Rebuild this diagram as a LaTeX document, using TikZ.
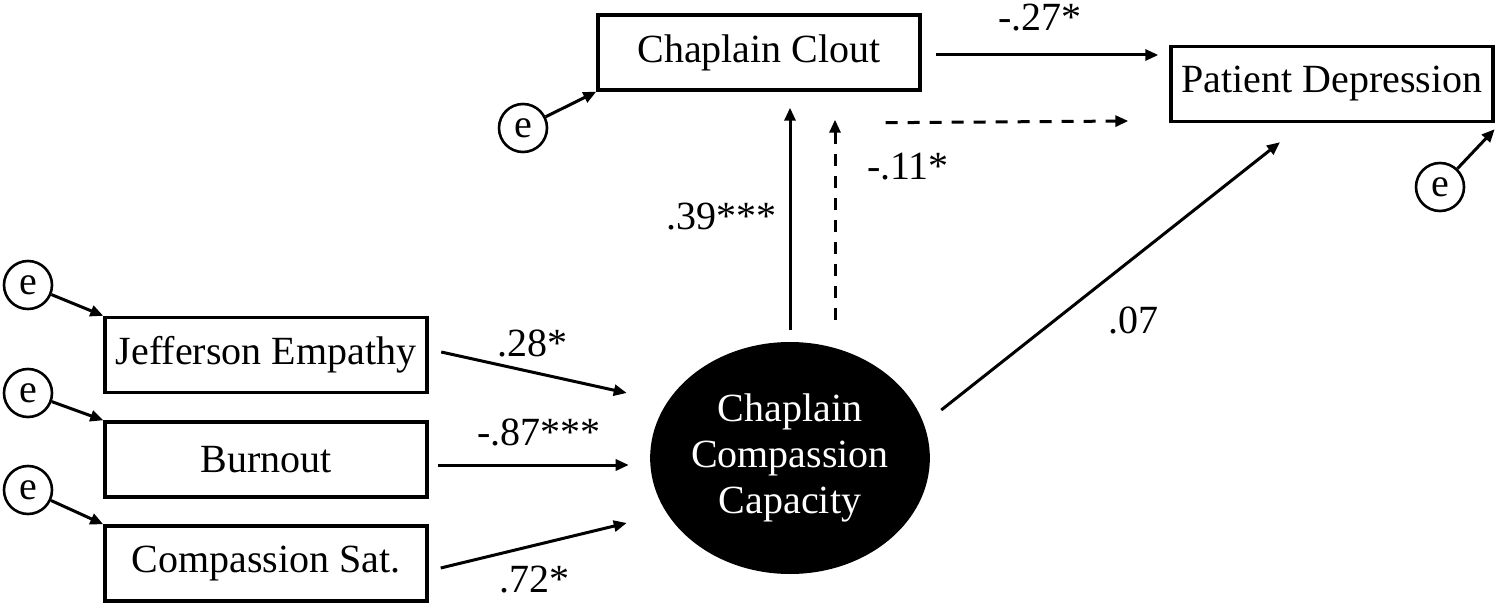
\documentclass[tikz,border=0pt]{standalone}
\usepackage{fontspec}
\setmainfont{Liberation Serif}
\usetikzlibrary{arrows.meta,shapes.geometric}
\begin{document}
\begin{tikzpicture}[x=0.5pt,y=-0.5pt,
 every node/.style={font=\fontsize{20}{23}\selectfont},
 box/.style={draw,line width=1.7pt,rectangle,minimum width=161pt,minimum height=37.5pt,inner sep=0pt},
 err/.style={draw,circle,line width=1.3pt,minimum size=24pt,inner sep=0pt},
 lat/.style={ellipse,fill=black,minimum width=137pt,minimum height=116pt,text=white,align=center,inner sep=0pt},
 conn/.style={line width=1.5pt,-{Triangle[length=6.5pt,width=5.5pt]}},
 dconn/.style={conn,dash pattern=on 6pt off 5pt},
 lbl/.style={inner sep=0pt}]
\useasboundingbox (0,0) rectangle (1498,604);
% nodes
\node[box] (cc) at (759,52.5) {Chaplain Clout};
\node[box] (pd) at (1332,84) {Patient Depression};
\node[box] (je) at (266,355) {Jefferson Empathy};
\node[box] (bo) at (266,459.5) {Burnout};
\node[box] (cs) at (266,563.5) {Compassion Sat.};
\node[lat] (ccc) at (790,458) {Chaplain\\Compassion\\Capacity};
\node[err] (e1) at (28,285) {e};
\node[err] (e2) at (28,393) {e};
\node[err] (e3) at (28,490) {e};
\node[err] (ec) at (523,128) {e};
\node[err] (ep) at (1440,187) {e};
% error arrows
\draw[conn] (e1) -- (je.north west);
\draw[conn] (e2) -- (bo.north west);
\draw[conn] (e3) -- (cs.north west);
\draw[conn] (ec) -- (cc.south west);
\draw[conn] (ep) -- ([shift={(0,6)}]pd.south east);
% indicators to latent
\draw[conn] ([shift={(12.5,-3)}]je.east) -- ([shift={(-23,-65)}]ccc.west);
\draw[conn] ([shift={(9,5.5)}]bo.east) -- ([shift={(-21,7)}]ccc.west);
\draw[conn] ([shift={(12,4.5)}]cs.east) -- ([shift={(-23,65)}]ccc.west);
% latent paths
\draw[conn] ([shift={(0,-12)}]ccc.north) -- ([shift={(31,16)}]cc.south);
\draw[dconn] ([shift={(45,-22)}]ccc.north) -- ([shift={(76,28)}]cc.south);
\draw[conn] ([shift={(14,2.5)}]cc.east) -- ([shift={(-11,-29)}]pd.west);
\draw[dconn] ([shift={(-36,31)}]cc.south east) -- ([shift={(-41,37)}]pd.west);
\draw[conn] ([shift={(11,-48)}]ccc.east) -- ([shift={(-52,19)}]pd.south);
% labels
\node[lbl] (l1) at (1040,18) {-.27*};
\node[lbl] (l2) at (908,167) {-.11*};
\node[lbl] (l3) at (721,217) {.39***};
\node[lbl] (l4) at (532,343) {.28*};
\node[lbl] (l5) at (539,432) {-.87***};
\node[lbl] (l6) at (534,580) {.72*};
\node[lbl] (l7) at (1133,320) {.07};
\end{tikzpicture}
\end{document}
